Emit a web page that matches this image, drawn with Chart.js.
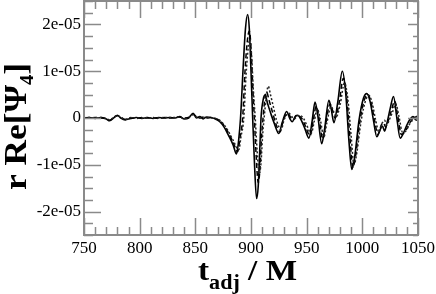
<!DOCTYPE html>
<html><head><meta charset="utf-8">
<script src="https://cdn.jsdelivr.net/npm/chart.js@4/dist/chart.umd.min.js"></script>
<style>html,body{margin:0;padding:0;background:#fff;}#wrap{width:436px;height:294px;}</style>
</head><body><div id="wrap"><canvas id="c" width="436" height="294"></canvas></div>
<script>
// values in units of 1e-5
const UNIT = 1e-5;
const solidT = [750,755,760,765,770,773,777,780,783,787,792,797,802,807,812,817,822,827,832,836,840,844,848,851,854,857,860,864,868,872,876,880,884,887,889,890.6,893,895,897,898.5,900,901.5,903,905,906.5,908,909,911,912.5,915,918,921,925,928,932,935,937,940,942,945,948,952,955,957.5,960,963.5,966,970,972,974.5,978,982,985,988,990.5,993,997,1001,1004,1007,1010,1013,1016,1018,1020,1022,1025,1028,1031,1034,1037,1040,1043,1045.5,1048,1050];
const solidV = [0,0.01,-0.01,0.01,-0.02,-0.06,0.01,0.06,0,-0.04,-0.01,0.01,-0.01,0.01,-0.01,0.01,0,0.01,0,0.03,-0.02,0,0.1,0,0.03,-0.02,0.02,0.01,-0.02,-0.08,-0.2,-0.38,-0.58,-0.77,-0.45,0,1.1,1.9,2.21,1.9,1.0,0,-0.9,-1.72,-1.45,-0.6,0,0.4,0.49,0.3,0.08,-0.12,-0.33,-0.1,0.14,-0.02,-0.08,0.04,0.06,-0.04,-0.2,-0.43,-0.05,0.34,0.05,-0.55,-0.25,0.38,0.2,-0.1,0.35,1.0,0.55,-0.5,-1.1,-0.85,-0.05,0.42,0.52,0.35,-0.05,-0.4,-0.25,-0.17,-0.28,-0.12,0.2,0.46,0,-0.43,-0.32,-0.15,-0.02,0.03,-0.04,-0.05];
const dashedT = [750,755,760,765,770,773,777,780,783,787,792,797,802,807,812,817,822,827,832,836,840,844,848,851,854,857,860,864,868,872,876,880,884,888,890,892.5,894.5,896.5,898.5,900,901.5,903,904.5,906.5,908,909.5,911,912.5,914,916,919,922,926,929,933,936,938,941,943,946,949,953,956,958.5,961,964.5,967,971,973,975.5,979,983,986,989,991.5,994,998,1002,1005,1008,1011,1014,1017,1019,1021,1023,1026,1029,1032,1035,1038,1041,1044,1047,1050];
const dashedV = [0.01,0,0.01,0,-0.02,-0.05,0.02,0.05,0.02,-0.03,0,-0.01,0.01,0,0.01,-0.01,0.01,0,0.01,0.02,0,0.01,0.08,0.03,0,0.02,0,0.01,-0.01,-0.06,-0.17,-0.33,-0.52,-0.72,-0.45,0,0.95,1.6,1.86,1.5,0.7,0,-0.75,-1.38,-1.1,-0.4,0.05,0.42,0.56,0.4,0.15,-0.1,-0.3,-0.05,0.1,0,-0.04,0.06,0.05,-0.02,-0.18,-0.38,-0.05,0.25,0.02,-0.45,-0.15,0.3,0.18,0,0.3,0.85,0.45,-0.45,-1.05,-0.8,-0.05,0.4,0.5,0.32,-0.05,-0.35,-0.15,-0.1,-0.2,-0.08,0.15,0.36,0.02,-0.35,-0.3,-0.18,-0.05,0.02,0.03];
const dottedT = [750,755,760,765,770,773,777,780,783,787,792,797,802,807,812,817,822,827,832,836,840,844,848,851,854,857,860,864,868,872,876,880,884,889,891,893.5,895.5,897.5,899,900.5,902,903.8,905.5,907.5,909,910.5,912,913.5,915.5,917.5,920,923,927,930,934,937,939,942,944,947,950,954,957,959.5,962,965.5,968,972,974,976.5,980,984,987,990,992.5,995,999,1003,1006,1009,1012,1015,1018,1020,1022,1024,1027,1030,1033,1036,1039,1042,1045,1048,1050];
const dottedV = [0,0.01,0,0.01,-0.01,-0.04,0.02,0.05,0.01,-0.03,0.01,0,0,0.01,0,0,0.01,0.01,0.01,0.02,-0.01,0.01,0.07,0.02,0.01,0.01,0.01,0,-0.01,-0.05,-0.15,-0.3,-0.48,-0.68,-0.4,0,0.9,1.5,1.68,1.35,0.65,0,-0.7,-1.2,-0.95,-0.35,0.05,0.4,0.68,0.5,0.25,-0.05,-0.25,-0.02,0.1,0.02,-0.02,0.05,0.05,0,-0.15,-0.33,-0.05,0.2,0,-0.4,-0.12,0.25,0.15,0.02,0.28,0.75,0.4,-0.4,-1.0,-0.75,-0.05,0.38,0.48,0.3,-0.05,-0.3,-0.1,-0.05,-0.15,-0.05,0.12,0.3,0.02,-0.3,-0.28,-0.15,-0.05,0.03,0.05];

const xTickValues = [750,800,850,900,950,1000,1050];
const xTickLabels = ['750','800','850','900','950','1000','1050'];
const yTickValues = [-2,-1,0,1,2];
const yTickLabels = ['-2e-05','-1e-05','0','1e-05','2e-05'];
const xMinorStep = 10, yMinorStep = 0.25;
const xTitleMain = 't', xTitleSub = 'adj', xTitleRest = ' / M';
const yTitleMain = 'r Re[\u03A8', yTitleSub = '4', yTitleEnd = ']';

const SERIF = '"Liberation Serif","DejaVu Serif",serif';
function pts(T, V){ return T.map((t,i)=>({x:t, y:V[i]*UNIT})); }

const frameColor = '#8a8a8a';
const decor = {
  id:'decor',
  afterDatasetsDraw(chart){
    const {ctx, chartArea:a, scales:{x, y}} = chart;
    ctx.save();
    ctx.strokeStyle = frameColor;
    ctx.lineWidth = 1.5;
    ctx.beginPath();
    for (let v = 750; v <= 1050; v += xMinorStep){
      const px = Math.round(x.getPixelForValue(v)) + 0.5;
      const major = (v % 50 === 0);
      const L = major ? 17 : 8;
      ctx.moveTo(px, a.bottom); ctx.lineTo(px, a.bottom - L);
      ctx.moveTo(px, a.top); ctx.lineTo(px, a.top + L);
    }
    for (let k = -10; k <= 10; k++){
      const v = k*yMinorStep;
      const py = Math.round(y.getPixelForValue(v*UNIT)) + 0.5;
      const major = (k % 4 === 0);
      ctx.moveTo(a.left, py); ctx.lineTo(a.left + (major ? 17 : 9), py);
      ctx.moveTo(a.right, py); ctx.lineTo(a.right - (major ? 10 : 5), py);
    }
    ctx.stroke();
    ctx.lineWidth = 2;
    ctx.strokeRect(a.left, a.top, a.right - a.left, a.bottom - a.top);
    ctx.restore();
  },
  afterDraw(chart){
    const ctx = chart.ctx;
    ctx.save();
    ctx.fillStyle = '#000';
    ctx.textBaseline = 'alphabetic';
    const fBig = 'bold 30px ' + SERIF, fSub = 'bold 20px ' + SERIF;
    ctx.font = fBig; const w1 = ctx.measureText(xTitleMain).width;
    ctx.font = fSub; const w2 = ctx.measureText(xTitleSub).width;
    ctx.font = fBig; const w3 = ctx.measureText(xTitleRest).width;
    const tot = w1 + w2 + w3;
    const sx = 99 / tot;
    ctx.save();
    ctx.translate(198, 280);
    ctx.scale(sx, 1);
    ctx.font = fBig; ctx.fillText(xTitleMain, 0, 0);
    ctx.font = fSub; ctx.fillText(xTitleSub, w1, 9);
    ctx.font = fBig; ctx.fillText(xTitleRest, w1 + w2, 0);
    ctx.restore();
    const fBigY = 'bold 31px ' + SERIF, fSub2 = 'bold 18px ' + SERIF;
    ctx.font = fBigY; const a1 = ctx.measureText(yTitleMain).width;
    ctx.font = fSub2; const a2 = ctx.measureText(yTitleSub).width;
    ctx.font = fBigY; const a3 = ctx.measureText(yTitleEnd).width;
    const ytot = a1 + a2 + a3;
    const sy = 127 / ytot;
    ctx.save();
    ctx.translate(26, 190);
    ctx.rotate(-Math.PI/2);
    ctx.scale(sy, 1);
    ctx.font = fBigY; ctx.fillText(yTitleMain, 0, 0);
    ctx.font = fSub2; ctx.fillText(yTitleSub, a1, 7);
    ctx.font = fBigY; ctx.fillText(yTitleEnd, a1 + a2, 0);
    ctx.restore();
    ctx.restore();
  }
};

new Chart(document.getElementById('c'), {
  type:'line',
  data:{ datasets:[
    {data:pts(dottedT, dottedV), borderColor:'#222', borderWidth:1.5, borderDash:[2,2], pointRadius:0, cubicInterpolationMode:'monotone', fill:false},
    {data:pts(dashedT, dashedV), borderColor:'#000', borderWidth:1.5, borderDash:[5,3], pointRadius:0, cubicInterpolationMode:'monotone', fill:false},
    {data:pts(solidT, solidV), borderColor:'#000', borderWidth:1.6, pointRadius:0, cubicInterpolationMode:'monotone', fill:false}
  ]},
  options:{
    responsive:false, animation:false, devicePixelRatio:1,
    layout:{padding:{top:1, right:18, left:0, bottom:0}},
    plugins:{legend:{display:false}, tooltip:{enabled:false}},
    scales:{
      x:{type:'linear', min:750, max:1050,
        grid:{display:false, drawTicks:false}, border:{display:false},
        afterBuildTicks(s){ s.ticks = xTickValues.map(v=>({value:v})); },
        afterFit(s){ s.height = 59; s.paddingLeft = 0; s.paddingRight = 0; s.paddingTop = 0; s.paddingBottom = 0; },
        ticks:{padding:3, color:'#000', font:{family:SERIF, size:17}, maxRotation:0, autoSkip:false,
          callback:(v,i)=>xTickLabels[i]}
      },
      y:{type:'linear', min:-2.5*UNIT, max:2.5*UNIT,
        grid:{display:false, drawTicks:false}, border:{display:false},
        afterBuildTicks(s){ s.ticks = yTickValues.map(v=>({value:v*UNIT})); },
        afterFit(s){ s.width = 84; s.paddingTop = 0; s.paddingBottom = 0; s.paddingLeft = 0; s.paddingRight = 0; },
        ticks:{padding:3, color:'#000', font:{family:SERIF, size:17}, autoSkip:false,
          callback:(v,i)=>yTickLabels[i]}
      }
    }
  },
  plugins:[decor]
});
</script></body></html>
